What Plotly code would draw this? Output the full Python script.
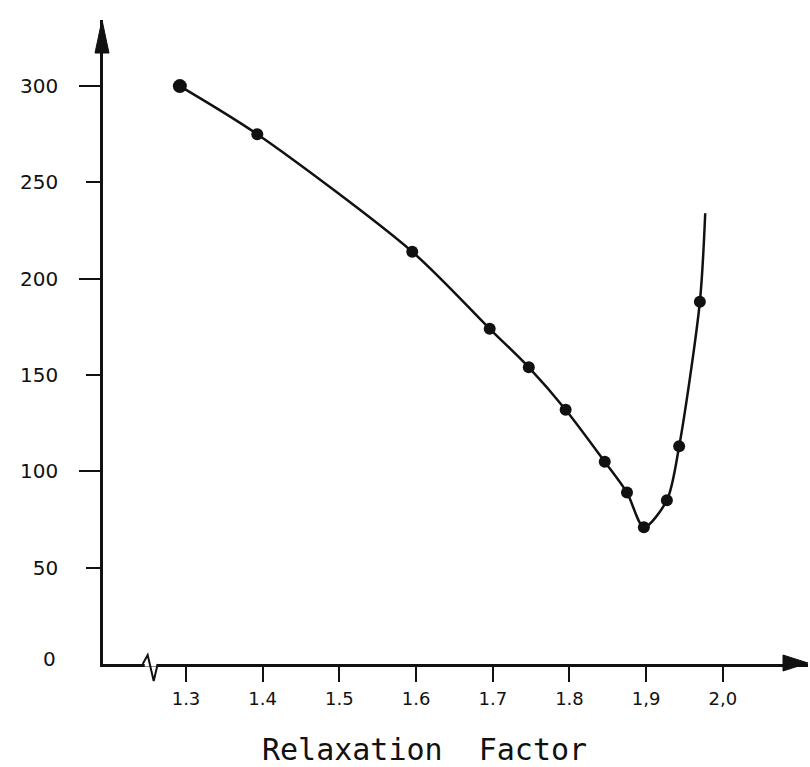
import plotly.graph_objects as go

# ---- data ----
relaxation_factor = [1.292, 1.393, 1.595, 1.696, 1.747, 1.795, 1.846, 1.875, 1.897, 1.927, 1.943, 1.970]
iterations = [300, 275, 214, 174, 154, 132, 105, 89, 71, 85, 113, 188]
curve_end_x = [1.977]
curve_end_y = [234]

x_tick_vals = [1.3, 1.4, 1.5, 1.6, 1.7, 1.8, 1.9, 2.0]
x_tick_text = ["1.3", "1.4", "1.5", "1.6", "1.7", "1.8", "1,9", "2,0"]
y_tick_vals = [50, 100, 150, 200, 250, 300]
y_long_ticks = [100, 200, 300]
axis_break_at = 1.2566
x_title = "Relaxation  Factor"

X_RANGE = [1.1918, 2.111]
Y_RANGE = [0, 334.3]
FONT = "DejaVu Sans"
INK = "#111111"

fig = go.Figure()

fig.add_trace(go.Scatter(
    x=relaxation_factor + curve_end_x,
    y=iterations + curve_end_y,
    mode="lines",
    line=dict(color=INK, width=2.5, shape="spline", smoothing=0.8),
    hoverinfo="skip",
    showlegend=False,
))
fig.add_trace(go.Scatter(
    x=relaxation_factor,
    y=iterations,
    mode="markers",
    marker=dict(color=INK, opacity=1, line=dict(width=0),
                size=[14] + [12] * (len(relaxation_factor) - 1)),
    showlegend=False,
))
# invisible trace on second y axis (long ticks at hundreds)
fig.add_trace(go.Scatter(x=[], y=[], yaxis="y2", showlegend=False))

break_paper = (axis_break_at - X_RANGE[0]) / (X_RANGE[1] - X_RANGE[0])

shapes = [
    dict(type="path", xref="paper", yref="paper", xsizemode="pixel", ysizemode="pixel",
         xanchor=0, yanchor=1, path="M-1,0 L-8,-33 L6,-33 Z",
         fillcolor=INK, line=dict(color=INK, width=1), layer="above"),
    dict(type="path", xref="paper", yref="paper", xsizemode="pixel", ysizemode="pixel",
         xanchor=1, yanchor=0, path="M0,1 L-25,9 L-25,-7 Z",
         fillcolor=INK, line=dict(color=INK, width=1), layer="above"),
    dict(type="path", xref="paper", yref="paper", xsizemode="pixel", ysizemode="pixel",
         xanchor=break_paper, yanchor=0, path="M-8,0 L4,0",
         line=dict(color="white", width=5), layer="above"),
    dict(type="path", xref="paper", yref="paper", xsizemode="pixel", ysizemode="pixel",
         xanchor=break_paper, yanchor=0, path="M-10,0 L-5,9 L1,-17 L5,0",
         line=dict(color=INK, width=2), layer="above"),
]

fig.update_layout(
    width=810, height=767,
    margin=dict(l=103, r=2, t=20, b=103),
    paper_bgcolor="white", plot_bgcolor="white",
    showlegend=False,
    shapes=shapes,
    xaxis=dict(
        range=X_RANGE, showgrid=False, zeroline=False,
        showline=True, linecolor=INK, linewidth=2.5,
        tickmode="array", tickvals=x_tick_vals, ticktext=x_tick_text,
        ticks="outside", ticklen=15, tickwidth=2, tickcolor=INK,
        tickfont=dict(family=FONT, size=18, color=INK),
        ticklabelstandoff=2,
    ),
    yaxis=dict(
        range=Y_RANGE, showgrid=False, zeroline=False,
        showline=True, linecolor=INK, linewidth=2.5,
        tickmode="array", tickvals=y_tick_vals, ticktext=[str(v) for v in y_tick_vals],
        ticks="outside", ticklen=14, tickwidth=2, tickcolor=INK,
        tickfont=dict(family=FONT, size=20, color=INK),
        ticklabelstandoff=24,
    ),
    yaxis2=dict(
        range=Y_RANGE, overlaying="y", anchor="x", side="left",
        showgrid=False, zeroline=False, showline=False,
        tickmode="array", tickvals=y_long_ticks, showticklabels=False,
        ticks="outside", ticklen=23, tickwidth=2, tickcolor=INK,
    ),
    annotations=[
        dict(text="0", xref="paper", yref="paper", x=0, y=0, xanchor="right", yanchor="middle",
             xshift=-45, yshift=5, showarrow=False,
             font=dict(family=FONT, size=20, color=INK)),
        dict(text=x_title, xref="paper", yref="paper", x=0.4567, y=0,
             xanchor="center", yanchor="middle", yshift=-85, showarrow=False,
             font=dict(family="DejaVu Sans Mono", size=30, color=INK)),
    ],
)

fig.write_html("out.html", config={"displayModeBar": False},
               post_script="document.body.style.margin='0';")
